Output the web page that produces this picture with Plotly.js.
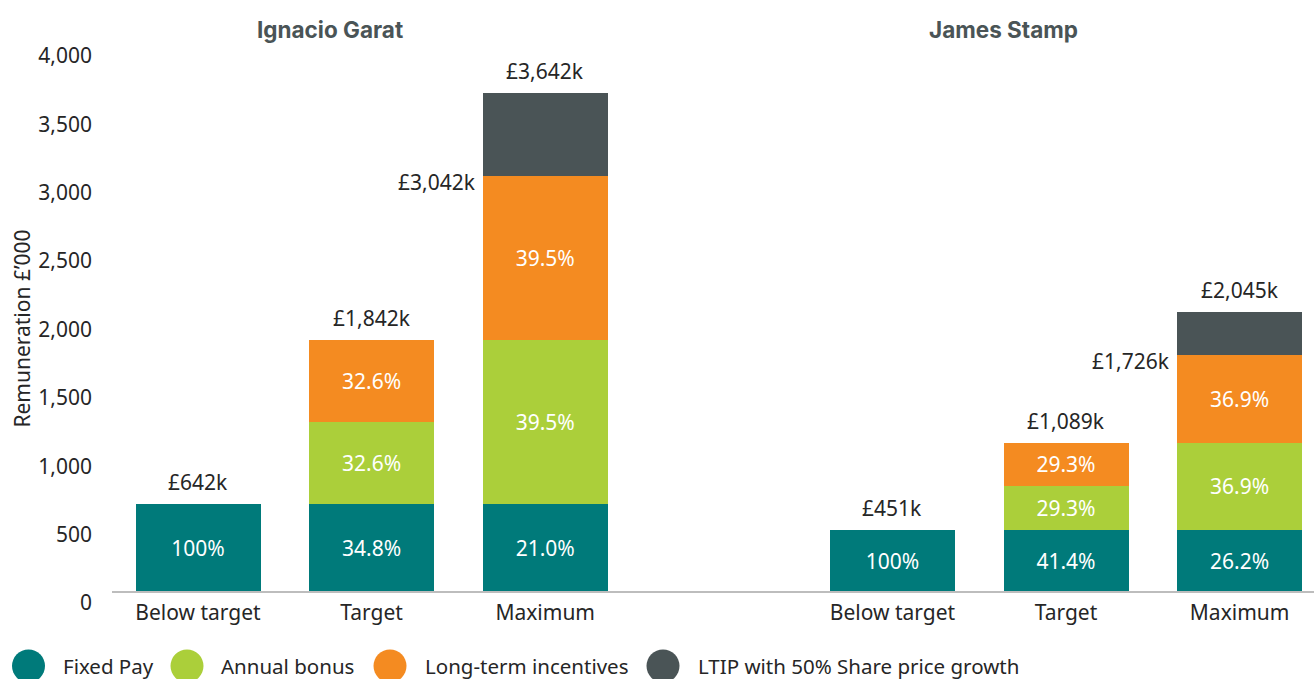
<!DOCTYPE html>
<html>
<head>
<meta charset="utf-8">
<script src="https://cdn.plot.ly/plotly-3.0.1.min.js"></script>
<style>
html,body{margin:0;padding:0;background:#fff;}
#chart{width:1314px;height:679px;}
</style>
</head>
<body>
<div id="chart"></div>
<script>
// ---- data ----
const groups = ["Ignacio Garat", "James Stamp"];
const scenarios = ["Below target", "Target", "Maximum"];
const seriesNames = ["Fixed Pay", "Annual bonus", "Long-term incentives", "LTIP with 50% Share price growth"];
const seriesColors = ["#007A7A", "#ABCF3A", "#F48B21", "#4A5456"];
// values in £'000, order: Garat (Below, Target, Max), Stamp (Below, Target, Max)
const fixedPay = [642, 642, 642, 451, 451, 451];
const annualBonus = [null, 600, 1200, null, 319, 637.5];
const longTerm = [null, 600, 1200, null, 319, 637.5];
const ltipGrowth = [null, null, 600, null, null, 319];
const fixedPct = ["100%", "34.8%", "21.0%", "100%", "41.4%", "26.2%"];
const bonusPct = ["", "32.6%", "39.5%", "", "29.3%", "36.9%"];
const ltiPct = ["", "32.6%", "39.5%", "", "29.3%", "36.9%"];
const growthPct = ["", "", "", "", "", ""];
const yTickVals = [0, 500, 1000, 1500, 2000, 2500, 3000, 3500, 4000];

// ---- build ----
const xs = [], xt = [];
groups.forEach((g, gi) => scenarios.forEach((s, si) => { xs.push(gi * 4 + si); xt.push(s); }));
const seriesVals = [fixedPay, annualBonus, longTerm, ltipGrowth];
const seriesText = [fixedPct, bonusPct, ltiPct, growthPct];
const font = "Noto Sans, Open Sans, sans-serif";
const fs = 21;

const traces = seriesVals.map((vals, i) => ({
  type: "bar", x: xs, y: vals, name: seriesNames[i],
  marker: {color: seriesColors[i], line: {width: 0}},
  text: seriesText[i], textposition: "inside", insidetextanchor: "middle",
  textangle: 0, constraintext: "none",
  textfont: {color: "#ffffff", size: fs, family: font},
  width: 0.72, showlegend: false, hoverinfo: "skip", yaxis: "y"
}));
// invisible trace on the tick axis so it renders
traces.push({type: "scatter", x: [xs[0]], y: [0], yaxis: "y2", mode: "markers",
  marker: {opacity: 0}, showlegend: false, hoverinfo: "skip"});

const fmt = v => "£" + Math.round(v).toLocaleString("en-GB") + "k";
const annotations = [];
xs.forEach((x, k) => {
  const total = seriesVals.reduce((a, s) => a + (s[k] || 0), 0);
  annotations.push({x: x, y: total, xref: "x", yref: "y", text: fmt(total),
    showarrow: false, yanchor: "bottom", yshift: 6,
    font: {size: fs, color: "#262626", family: font}});
  if (ltipGrowth[k]) {
    const sub = total - ltipGrowth[k];
    annotations.push({x: x - 0.36, y: sub, xref: "x", yref: "y", text: fmt(sub),
      showarrow: false, xanchor: "right", yanchor: "middle", xshift: -5, yshift: -6,
      font: {size: fs, color: "#262626", family: font}});
  }
});
// group titles
const titleX = [0.76, 4.64];
groups.forEach((g, gi) => annotations.push({x: titleX[gi], y: 1, xref: "x", yref: "paper",
  text: "<b>" + g + "</b>", showarrow: false, yanchor: "bottom", yshift: 0,
  font: {size: 22.5, color: "#4A5456", family: "Inter, Lato, Noto Sans, sans-serif"}}));

// manual legend (large round swatches)
const legCircle = [28.5, 187, 390, 663];
const legText = [61, 219, 423, 696];
const pl = 112, pw = 1202, pt = 45, ph = 567;
const shapes = [];
const legY = (pt + ph - 666) / ph;
seriesNames.forEach((n, i) => {
  shapes.push({type: "circle", xref: "paper", yref: "paper",
    xsizemode: "pixel", ysizemode: "pixel",
    xanchor: (legCircle[i] - pl) / pw, yanchor: legY,
    x0: -16.5, x1: 16.5, y0: -16.5, y1: 16.5,
    fillcolor: seriesColors[i], line: {width: 0}});
  annotations.push({xref: "paper", yref: "paper", x: (legText[i] - pl) / pw, y: legY,
    xanchor: "left", yanchor: "middle", text: n, showarrow: false,
    font: {size: 20.5, color: "#262626", family: font}});
});

const k = 0.13675; // px per unit
const layout = {
  width: 1314, height: 679,
  margin: {l: pl, r: 0, t: pt, b: 679 - pt - ph},
  paper_bgcolor: "#fff", plot_bgcolor: "#fff",
  barmode: "stack",
  showlegend: false,
  font: {family: font, size: fs, color: "#262626"},
  xaxis: {
    range: [(pl - 198) / 173.6, (pl + pw - 198) / 173.6],
    tickmode: "array", tickvals: xs, ticktext: xt,
    showgrid: false, zeroline: false, showline: true,
    linecolor: "#BDBDBD", linewidth: 2,
    ticks: "", anchor: "free", position: (612 - 591.5) / ph,
    ticklabelstandoff: 2,
    tickfont: {size: fs, color: "#262626", family: font},
    fixedrange: true
  },
  yaxis: {
    range: [-(612 - 591.5) / k, (591.5 - 45) / k],
    showticklabels: false, showgrid: false, zeroline: false, showline: false,
    fixedrange: true
  },
  yaxis2: {
    overlaying: "y", side: "left", anchor: "free", position: 0,
    range: [-(612 - 603) / k, (603 - 45) / k],
    tickmode: "array", tickvals: yTickVals,
    tickformat: ",d",
    showgrid: false, zeroline: false, showline: false, ticks: "",
    ticklabelstandoff: 20,
    tickfont: {size: fs, color: "#262626", family: font},
    title: {text: "Remuneration £’000", font: {size: fs, color: "#262626", family: font}, standoff: 0},
    fixedrange: true
  },
  annotations: annotations,
  shapes: shapes
};
Plotly.newPlot("chart", traces, layout, {displayModeBar: false, staticPlot: true});
</script>
</body>
</html>
